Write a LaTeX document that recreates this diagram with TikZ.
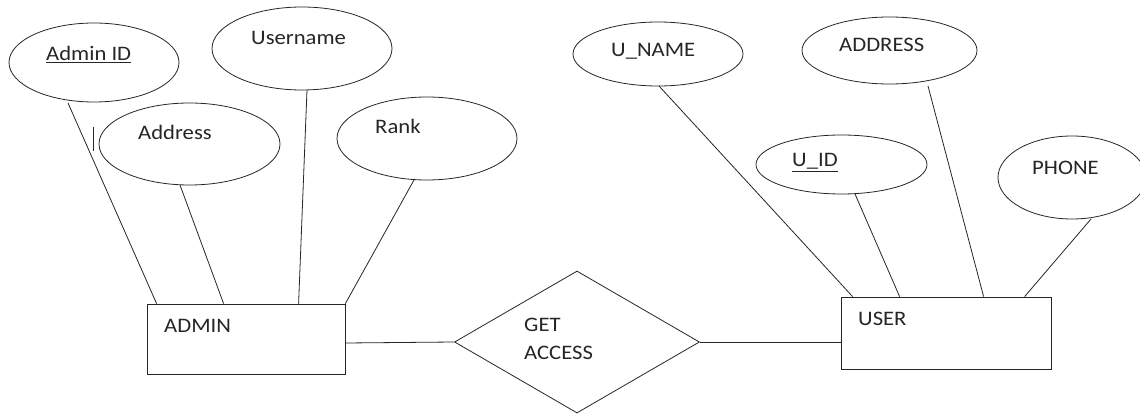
\documentclass[tikz,border=0pt]{standalone}
\usepackage{fontspec}
\setmainfont{Carlito}[FakeStretch=1.1]
\usetikzlibrary{shapes.geometric}
\begin{document}
\begin{tikzpicture}[x=1pt,y=-1pt,
  attr/.style={draw=black!85,line width=0.8pt,ellipse,inner sep=0pt},
  entity/.style={draw=black!85,line width=0.8pt,rectangle,inner sep=0pt},
  rel/.style={draw=black!85,line width=0.8pt,diamond,inner sep=0pt},
  lbl/.style={inner sep=0pt,anchor=base west,text=black!85,font=\fontsize{20.6}{28}\selectfont},
  conn/.style={draw=black!85,line width=0.8pt}]
\useasboundingbox (0,0) rectangle (1140,414);
\clip (0,0) rectangle (1140,414);
\fill[white] (0,0) rectangle (1140,414);

% attribute ellipses
\node[attr,minimum width=170pt,minimum height=79pt] (aid) at (94,62.5) {};
\node[attr,minimum width=180pt,minimum height=83pt] (uname) at (302,48.5) {};
\node[attr,minimum width=181pt,minimum height=82pt] (addr) at (189.5,144) {};
\node[attr,minimum width=180pt,minimum height=83pt] (rank) at (427,138.5) {};
\node[attr,minimum width=170pt,minimum height=64pt] (un) at (658,54) {};
\node[attr,minimum width=175pt,minimum height=67pt] (uaddr) at (889.5,50.5) {};
\node[attr,minimum width=171pt,minimum height=59pt] (uid) at (841.5,164.5) {};
\node[attr,minimum width=148pt,minimum height=83pt] (phone) at (1072,177.5) {};

% entities and relationship
\node[entity,minimum width=198pt,minimum height=70pt] (admin) at (246,339) {};
\node[entity,minimum width=210pt,minimum height=72pt] (user) at (946,333) {};
\node[rel,minimum width=245pt,minimum height=142pt] (ga) at (577,342) {};

% labels
\node[lbl] (taid) at (46,61) {\underline{Admin ID}};
\node[lbl] (tuname) at (251,45) {Username};
\node[lbl] (taddr) at (138,140) {Address};
\node[lbl] (trank) at (375,134) {Rank};
\node[lbl] (tadmin) at (164,332) {ADMIN};
\node[lbl] (tun) at (611,57) {U\_NAME};
\node[lbl] (tuaddr) at (839,52) {ADDRESS};
\node[lbl] (tuid) at (792,167) {\underline{U\_ID}};
\node[lbl] (tphone) at (1032,175) {PHONE};
\node[lbl] (tuser) at (858,325) {USER};
\node[lbl] (tget) at (524,331) {GET};
\node[lbl] (tacc) at (524,359) {ACCESS};

% stray cursor mark
\draw[conn] (93,127) -- (93,151);

% connectors ADMIN side
\draw[conn] ([xshift=-26pt,yshift=-40.5pt]aid.center) -- ([xshift=10pt]admin.north west);
\draw[conn] ([xshift=-9.5pt,yshift=-41pt]addr.center) -- ([xshift=77pt]admin.north west);
\draw[conn] ([xshift=5pt,yshift=-41.5pt]uname.center) -- ([xshift=152pt]admin.north west);
\draw[conn] ([xshift=-13pt,yshift=-41.5pt]rank.center) -- (admin.north east);

% connectors USER side
\draw[conn] ([xshift=1pt,yshift=-32pt]un.center) -- ([xshift=12pt]user.north west);
\draw[conn] ([xshift=13.5pt,yshift=-29.5pt]uid.center) -- ([xshift=59pt]user.north west);
\draw[conn] ([xshift=38.5pt,yshift=-35.5pt]uaddr.center) -- ([xshift=143pt]user.north west);
\draw[conn] ([xshift=19pt,yshift=-41.5pt]phone.center) -- ([xshift=184pt]user.north west);

% relationship connectors
\draw[conn] ([yshift=-4pt]admin.east) -- (ga.west);
\draw[conn] (ga.east) -- ([yshift=-9pt]user.west);
\end{tikzpicture}
\end{document}
